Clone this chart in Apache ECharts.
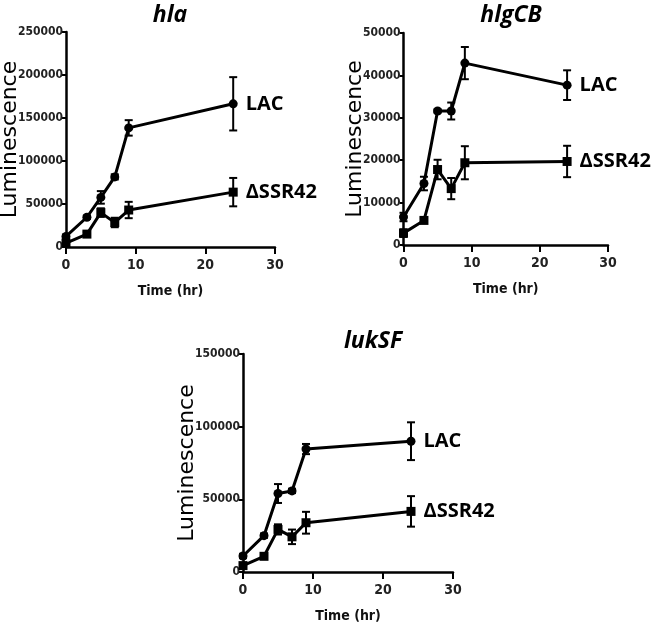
<!DOCTYPE html>
<html>
<head>
<meta charset="utf-8">
<script src="https://cdn.jsdelivr.net/npm/echarts@6/dist/echarts.min.js"></script>
<style>html,body{margin:0;padding:0;background:#fff}#c{width:666px;height:624px}</style>
</head>
<body>
<div id="c"></div>
<script>
// ---- data ----
var time = [0, 3, 5, 7, 9, 24];
var panelTitles = ['hla', 'hlgCB', 'lukSF'];
var seriesNames = ['LAC', 'ΔSSR42'];
var yMax = [250000, 50000, 150000];
var yStep = [50000, 10000, 50000];
var xTicks = [0, 10, 20, 30];

var hlaLAC = [12300, 34600, 57700, 81500, 138500, 166500];
var hlaLACerr = [2000, 2000, 7300, 3000, 9000, 31000];
var hlaSSR = [4600, 15000, 40000, 28500, 43000, 63800];
var hlaSSRerr = [2000, 2500, 5000, 5500, 9500, 16500];

var hlgLAC = [6600, 14500, 31600, 31600, 42900, 37700];
var hlgLACerr = [1000, 1600, 400, 2000, 3800, 3500];
var hlgSSR = [2800, 5800, 17800, 13300, 19400, 19700];
var hlgSSRerr = [900, 500, 2300, 2500, 3900, 3700];

var lukLAC = [11000, 25000, 54000, 55800, 84600, 90000];
var lukLACerr = [1500, 1500, 6500, 1500, 3500, 13000];
var lukSSR = [4400, 10800, 29300, 24200, 33900, 41700];
var lukSSRerr = [1500, 1500, 3500, 5000, 7500, 10500];

var panels = [
  {lac: hlaLAC, lacErr: hlaLACerr, ssr: hlaSSR, ssrErr: hlaSSRerr},
  {lac: hlgLAC, lacErr: hlgLACerr, ssr: hlgSSR, ssrErr: hlgSSRerr},
  {lac: lukLAC, lacErr: lukLACerr, ssr: lukSSR, ssrErr: lukSSRerr}
];

// ---- layout ----
var grids = [
  {left: 66, top: 32, width: 209, height: 215, outerBoundsMode: 'none', containLabel: false},
  {left: 403.5, top: 33, width: 204.5, height: 212, outerBoundsMode: 'none', containLabel: false},
  {left: 243, top: 354, width: 210, height: 218, outerBoundsMode: 'none', containLabel: false}
];
var yNameGap = [45, 37, 45];
var titlePos = [{x: 165, y: -1, size: 23}, {x: 506, y: -1, size: 23}, {x: 368, y: 325, size: 23}];

var tickFont = '"Liberation Sans Narrow", "DejaVu Sans Condensed", "Liberation Sans", sans-serif';
var labelFont = '"Open Sans", "DejaVu Sans", sans-serif';

var option = {
  animation: false,
  backgroundColor: '#fff',
  title: [], grid: [], xAxis: [], yAxis: [], series: []
};

function errSeries(i, vals, errs) {
  var d = time.map(function (t, k) { return [t, vals[k], errs[k]]; });
  return {
    type: 'custom', xAxisIndex: i, yAxisIndex: i, z: 3, silent: true,
    data: d,
    renderItem: function (params, api) {
      var x = api.value(0), y = api.value(1), e = api.value(2);
      var top = api.coord([x, y + e]);
      var bot = api.coord([x, y - e]);
      var w = 4;
      var st = {stroke: '#000', lineWidth: 2};
      return {type: 'group', children: [
        {type: 'line', shape: {x1: top[0], y1: top[1], x2: bot[0], y2: bot[1]}, style: st},
        {type: 'line', shape: {x1: top[0] - w, y1: top[1], x2: top[0] + w, y2: top[1]}, style: st},
        {type: 'line', shape: {x1: bot[0] - w, y1: bot[1], x2: bot[0] + w, y2: bot[1]}, style: st}
      ]};
    }
  };
}

function lineSeries(i, name, vals, symbol) {
  var d = time.map(function (t, k) {
    var item = {value: [t, vals[k]]};
    if (k === time.length - 1) {
      item.label = {show: true, position: 'right', distance: 8, formatter: name,
        fontFamily: labelFont, fontWeight: 'bold', fontSize: 20, color: '#000'};
    }
    return item;
  });
  return {
    type: 'line', name: name, xAxisIndex: i, yAxisIndex: i, z: 4,
    data: d, symbol: symbol, symbolSize: 9, showAllSymbol: true,
    lineStyle: {color: '#000', width: 3},
    itemStyle: {color: '#000'},
    label: {show: false}
  };
}

for (var i = 0; i < 3; i++) {
  option.title.push({
    text: panelTitles[i], left: titlePos[i].x, top: titlePos[i].y, textAlign: 'center',
    textStyle: {fontFamily: labelFont, fontStyle: 'italic', fontWeight: 'bold', fontSize: titlePos[i].size, color: '#000'}
  });
  option.grid.push(grids[i]);
  option.xAxis.push({
    type: 'value', gridIndex: i, min: xTicks[0], max: xTicks[xTicks.length - 1], interval: 10,
    name: 'Time (hr)', nameLocation: 'middle', nameGap: 37, nameMoveOverlap: false,
    nameTextStyle: {fontFamily: tickFont, fontWeight: 'bold', fontSize: 14, color: '#111'},
    axisLine: {show: true, onZero: false, lineStyle: {color: '#000', width: 2.5}},
    axisTick: {show: true, length: 7, lineStyle: {color: '#000', width: 2}},
    axisLabel: {margin: 11, fontFamily: tickFont, fontWeight: 'bold', fontSize: 14, color: '#222'},
    splitLine: {show: false}
  });
  option.yAxis.push({
    type: 'value', gridIndex: i, min: 0, max: yMax[i], interval: yStep[i],
    name: 'Luminescence', nameLocation: 'middle', nameGap: yNameGap[i], nameMoveOverlap: false,
    nameTextStyle: {fontFamily: '"DejaVu Sans", sans-serif', fontSize: 22, color: '#000'},
    axisLine: {show: true, onZero: false, lineStyle: {color: '#000', width: 2.5}},
    axisTick: {show: true, length: 4, lineStyle: {color: '#000', width: 2}},
    axisLabel: {margin: 3, fontFamily: tickFont, fontWeight: 'bold', fontSize: 12, color: '#222',
      formatter: function (v) { return String(v); }},
    splitLine: {show: false}
  });
  var p = panels[i];
  option.series.push(errSeries(i, p.lac, p.lacErr));
  option.series.push(errSeries(i, p.ssr, p.ssrErr));
  option.series.push(lineSeries(i, seriesNames[0], p.lac, 'circle'));
  option.series.push(lineSeries(i, seriesNames[1], p.ssr, 'rect'));
}

var chart = echarts.init(document.getElementById('c'), null, {renderer: 'canvas'});
chart.setOption(option);
</script>
</body>
</html>
